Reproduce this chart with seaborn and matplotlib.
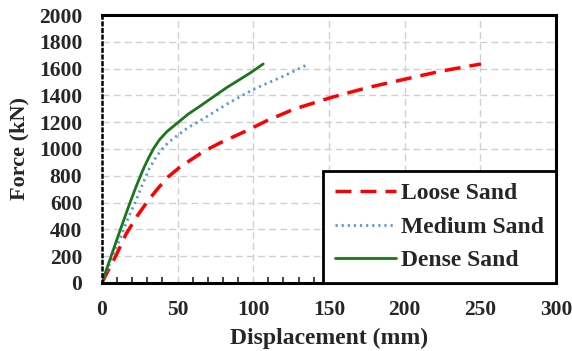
import pandas as pd
import seaborn as sns
import matplotlib.pyplot as plt
from matplotlib.ticker import MultipleLocator

# Load-displacement curves
loose_x = [0, 4, 9.4, 16, 23.7, 30.3, 37, 43.5, 51.5, 57, 67, 78, 95.6, 108.8, 126.8, 151, 175.4, 199.7, 224, 250.5]
loose_y = [0, 88, 205, 365, 505, 610, 705, 789, 864, 905, 980, 1045, 1136, 1210, 1297, 1383, 1458, 1520, 1581, 1635]

medium_x = [0, 6, 12, 18, 22.6, 27, 31.4, 35.8, 41.3, 46.8, 50.4, 57, 64.8, 82.4, 100, 120, 136.7]
medium_y = [0, 165, 330, 500, 616, 740, 855, 940, 1020, 1075, 1105, 1160, 1210, 1334, 1445, 1544, 1635]

dense_x = [0, 6, 12, 18, 22, 25, 28, 31, 34, 38, 43, 50, 57, 65, 82.4, 98.2, 106.6]
dense_y = [0, 195, 390, 580, 700, 785, 865, 935, 1000, 1068, 1130, 1195, 1260, 1321, 1458, 1569, 1635]

sns.set_style('white')
plt.rcParams['font.family'] = ['Liberation Serif', 'DejaVu Serif']
plt.rcParams['font.weight'] = 'bold'

fig = plt.figure(figsize=(5.72, 3.51), dpi=100)
ax = fig.add_axes([0.178, 0.194, 0.794, 0.763])

sns.lineplot(x=loose_x, y=loose_y, ax=ax, color='#ff0000', linewidth=2.5,
             label='Loose Sand').lines[-1].set_dashes([4.6, 2.6])
sns.lineplot(x=medium_x, y=medium_y, ax=ax, color='#5b9bd5', linewidth=2,
             label='Medium Sand').lines[-1].set_dashes([0.8, 1.4])
sns.lineplot(x=dense_x, y=dense_y, ax=ax, color='#1b751b', linewidth=2,
             label='Dense Sand')

ax.set_xlim(0, 300)
ax.set_ylim(0, 2000)
ax.xaxis.set_major_locator(MultipleLocator(50))
ax.xaxis.set_minor_locator(MultipleLocator(10))
ax.yaxis.set_major_locator(MultipleLocator(200))
ax.grid(True, which='major', color='#d0d0d0', linestyle=(0, (5, 3)), linewidth=1)

for side in ['top', 'right', 'bottom']:
    ax.spines[side].set_color('black')
    ax.spines[side].set_linewidth(2.2)
ax.spines['left'].set_color('black')
ax.spines['left'].set_linewidth(1.8)
ax.spines['left'].set_linestyle(':')

ax.tick_params(axis='x', which='minor', direction='in', length=4, width=1.2, bottom=True)
ax.tick_params(axis='x', which='major', direction='in', length=0, pad=12)
ax.tick_params(axis='y', which='major', length=0, pad=14)
for lab in ax.get_xticklabels() + ax.get_yticklabels():
    lab.set_fontsize(15.5)
    lab.set_fontweight('bold')

ax.set_xlabel('Displacement (mm)', fontsize=17, fontweight='bold', labelpad=6)
ax.set_ylabel('Force (kN)', fontsize=16, fontweight='bold', labelpad=7)

leg = ax.legend(loc='lower right', bbox_to_anchor=(1.0, 0.0), borderaxespad=0,
                fancybox=False, framealpha=1, edgecolor='black',
                prop={'size': 17, 'weight': 'bold'}, handlelength=2.6,
                handletextpad=0.2, labelspacing=0.5, borderpad=0.5)
leg.get_frame().set_linewidth(2)

fig.savefig('out.png', dpi=100)
